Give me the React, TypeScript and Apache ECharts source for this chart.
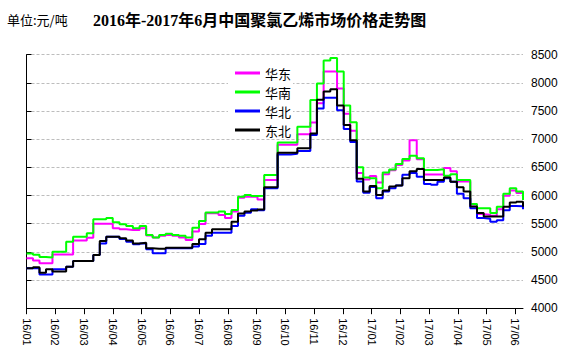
import React, { useEffect, useRef } from 'react';
import * as echarts from 'echarts';

// Weekly sampling grid starting 2016-01-01 (one value per week per region)
const startDate = { y: 2016, m: 0, d: 1 };
const weekCount = 76;

const tickLabels = [
  '16/01', '16/02', '16/03', '16/04', '16/05', '16/06', '16/07', '16/08', '16/09',
  '16/10', '16/11', '16/12', '17/01', '17/02', '17/03', '17/04', '17/05', '17/06',
];

const seriesNames = ['华东', '华南', '华北', '东北'];
const seriesColors = ['#FF00FF', '#00FF00', '#0000FF', '#000000'];

const huadong = [
  4885, 4845, 4800, 4800, 4955, 4955, 4955, 5200, 5200, 5250,
  5500, 5500, 5500, 5420, 5400, 5390, 5390, 5420, 5290, 5255,
  5285, 5300, 5285, 5255, 5210, 5360, 5495, 5685, 5685, 5655,
  5600, 5715, 5960, 5980, 5980, 5930, 6275, 6275, 6900, 6900,
  6900, 7090, 7090, 7295, 7640, 8200, 8200, 7900, 7450, 7150,
  6400, 6285, 6345, 6230, 6380, 6450, 6540, 6620, 6980, 6645,
  6375, 6375, 6375, 6490, 6430, 6250, 6250, 5845, 5670, 5660,
  5640, 5755, 5995, 6090, 6045, 5930,
];

const huanan = [
  4970, 4950, 4910, 4900, 5000, 5000, 5180, 5270, 5270, 5330,
  5580, 5580, 5600, 5525, 5490, 5460, 5420, 5460, 5300, 5255,
  5300, 5320, 5300, 5285, 5255, 5430, 5550, 5700, 5700, 5715,
  5670, 5745, 5980, 6010, 5990, 5995, 6365, 6365, 6940, 6940,
  6940, 7220, 7220, 7695, 7990, 8395, 8440, 8200, 7600, 7300,
  6500, 6320, 6305, 6130, 6410, 6460, 6560, 6650, 6705, 6660,
  6455, 6455, 6465, 6350, 6380, 6275, 6275, 5850, 5775, 5775,
  5690, 5800, 6030, 6130, 6070, 5920,
];

const huabei = [
  4710, 4710, 4600, 4600, 4690, 4690, 4735, 4840, 4840, 4840,
  4945, 5150, 5270, 5270, 5230, 5180, 5135, 5150, 5045, 4975,
  4975, 5065, 5065, 5065, 5065, 5095, 5140, 5285, 5340, 5340,
  5340, 5460, 5640, 5695, 5755, 5740, 6130, 6130, 6730, 6730,
  6740, 6790, 6790, 7075, 7545, 7735, 7735, 7515, 7180, 6950,
  6250, 6050, 6150, 5950, 6070, 6130, 6180, 6370, 6400, 6335,
  6205, 6190, 6245, 6305, 6245, 6030, 5950, 5775, 5600, 5590,
  5535, 5560, 5740, 5815, 5810, 5755,
];

const dongbei = [
  4710, 4725, 4630, 4690, 4650, 4650, 4735, 4840, 4840, 4840,
  4945, 5195, 5270, 5270, 5240, 5200, 5150, 5160, 5065, 5055,
  5055, 5075, 5075, 5075, 5075, 5140, 5225, 5340, 5400, 5400,
  5400, 5535, 5680, 5715, 5735, 5750, 6145, 6145, 6760, 6760,
  6760, 6840, 6840, 7100, 7700, 7845, 7885, 7600, 7250, 6980,
  6300, 6070, 6170, 6010, 6090, 6160, 6180, 6305, 6430, 6470,
  6275, 6275, 6275, 6320, 6245, 6145, 6070, 5805, 5690, 5630,
  5630, 5630, 5800, 5875, 5890, 5800,
];

const yMin = 4000;
const yMax = 8500;
const yStep = 500;

// position of a date on the month-index axis (0 = 2016-01-01, 1 = 2016-02-01, ...)
function monthPos(t: Date): number {
  const y = t.getUTCFullYear();
  const mo = t.getUTCMonth();
  const day = t.getUTCDate();
  const dim = new Date(Date.UTC(y, mo + 1, 0)).getUTCDate();
  return (y - 2016) * 12 + mo + (day - 1) / dim;
}

const weekPositions: number[] = [];
for (let i = 0; i < weekCount; i++) {
  weekPositions.push(monthPos(new Date(Date.UTC(startDate.y, startDate.m, startDate.d + 7 * i))));
}

export default function App() {
  const ref = useRef<HTMLDivElement>(null);

  useEffect(() => {
    if (!ref.current) return;
    const chart = echarts.init(ref.current, undefined, { renderer: 'svg' });
    const monthTicks = tickLabels.map((_, i) => i);
    const xMax = weekPositions[weekPositions.length - 1];
    const allSeries = [huadong, huanan, huabei, dongbei];

    chart.setOption({
      animation: false,
      backgroundColor: '#ffffff',
      title: [
        {
          text: '单位:元/吨',
          left: 7,
          top: 13,
          padding: 0,
          textStyle: { fontSize: 13, fontWeight: 'normal', color: '#000', fontFamily: '"Noto Sans CJK SC", sans-serif' },
        },
        {
          text: '2016年-2017年6月中国聚氯乙烯市场价格走势图',
          left: 93,
          top: 12,
          padding: 0,
          textStyle: { fontSize: 16, fontWeight: 'bold', color: '#000', fontFamily: '"Liberation Serif", "Noto Sans CJK SC", serif' },
        },
      ],
      legend: {
        orient: 'vertical',
        left: 228,
        top: 63,
        padding: [3, 2, 1, 7],
        backgroundColor: '#ffffff',
        itemWidth: 25,
        itemHeight: 3,
        itemGap: 5,
        icon: 'rect',
        textStyle: { fontSize: 13, lineHeight: 14, color: '#000', fontFamily: '"Noto Sans CJK SC", sans-serif' },
        data: seriesNames,
      },
      grid: { left: 26.5, right: 40, top: 54.7, bottom: 45.8 },
      xAxis: {
        type: 'value',
        min: 0,
        max: xMax,
        interval: 1,
        axisLine: { show: true, lineStyle: { color: '#000', width: 1 } },
        axisTick: { show: true, length: 6, customValues: monthTicks, lineStyle: { color: '#000' } },
        axisLabel: {
          customValues: monthTicks,
          rotate: -90,
          margin: 10,
          fontSize: 11,
          hideOverlap: false,
          showMinLabel: true,
          showMaxLabel: true,
          color: '#000',
          fontFamily: '"Liberation Sans", Arial, sans-serif',
          formatter: (v: number) => tickLabels[Math.round(v)] ?? '',
        },
        splitLine: { show: false },
      },
      yAxis: [
        {
          type: 'value',
          position: 'right',
          min: yMin,
          max: yMax,
          interval: yStep,
          axisLine: { show: false },
          axisTick: { show: false },
          axisLabel: {
            margin: 8,
            fontSize: 12,
            color: '#000',
            fontFamily: '"Liberation Sans", Arial, sans-serif',
            formatter: (v: number) => String(v),
          },
          splitLine: { show: true, lineStyle: { type: [3, 2], color: '#bdbdbd', width: 1 } },
        },
        {
          type: 'value',
          position: 'left',
          min: yMin,
          max: yMax,
          interval: yStep,
          axisLine: { show: true, lineStyle: { color: '#000', width: 1 } },
          axisTick: { show: true, inside: true, length: 5, lineStyle: { color: '#000' } },
          axisLabel: { show: false },
          splitLine: { show: false },
        },
      ],
      series: seriesNames.map((name, si) => ({
        name,
        type: 'line',
        step: 'end',
        symbol: 'none',
        yAxisIndex: 0,
        color: seriesColors[si],
        lineStyle: { color: seriesColors[si], width: 2 },
        data: weekPositions.map((x, i) => [x, allSeries[si][i]]),
      })),
    });

    return () => chart.dispose();
  }, []);

  return <div ref={ref} style={{ position: 'fixed', left: 0, top: 0, width: 563, height: 354 }} />;
}
